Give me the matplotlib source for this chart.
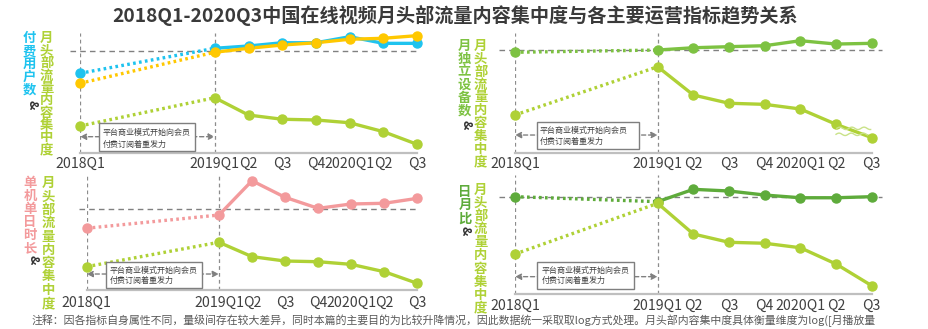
import matplotlib
matplotlib.use("Agg")
import matplotlib.pyplot as plt
import numpy as np
from matplotlib.patches import Rectangle
from matplotlib.transforms import blended_transform_factory

plt.rcParams['font.family'] = ['Noto Sans CJK SC', 'DejaVu Sans']

W, H = 929, 329

# quarter index counted from 2018Q1
quarters = [0, 4, 5, 6, 7, 8, 9, 10]
tick_labels = ["2018Q1", "2019Q1", "Q2", "Q3", "Q4", "2020Q1", "Q2", "Q3"]

# log-scaled index values (relative units)
paid_users = [66.5, 87.3, 89.2, 91.9, 91.9, 96.9, 91.4, 91.4]
conc_paid = [58.2, 84.0, 87.3, 90.0, 91.9, 94.8, 95.6, 97.8]
conc_a = [22.7, 46.2, 31.8, 28.3, 27.7, 25.4, 18.0, 7.5]

devices = [84.1, 86.0, 87.9, 88.8, 89.6, 93.8, 91.0, 91.6]
conc_b = [31.6, 72.0, 48.3, 41.4, 40.5, 36.6, 23.8, 12.6]

daily_time = [53.7, 65.2, 95.0, 80.6, 71.0, 74.8, 75.4, 79.7]
conc_c = [20.3, 41.5, 29.0, 25.2, 24.6, 22.3, 15.9, 5.8]

dau_mau = [81.7, 77.5, 87.9, 86.5, 83.1, 80.8, 80.8, 81.7]
conc_d = [33.3, 76.1, 50.2, 43.2, 42.4, 38.6, 24.9, 6.6]

ref_levels = [85.3, 86.0, 70.2, 81.7]

title = "2018Q1-2020Q3中国在线视频月头部流量内容集中度与各主要运营指标趋势关系"
note_text = ("平台商业模式开始向会员\n付费订阅着重发力")
footnote = ("注释：因各指标自身属性不同，量级间存在较大差异，同时本篇的主要目的为比较升降情况，"
            "因此数据统一采取取log方式处理。月头部内容集中度具体衡量维度为log([月播放量")

BLUE = "#1fc3ef"
YELLOW = "#ffc800"
LIME = "#afd136"
GREEN = "#7dc242"
PINK = "#f39a9c"
DGREEN = "#5eab3b"
GRID = "#808080"
TXT = "#404040"

fig = plt.figure(figsize=(W / 100, H / 100), dpi=100)


def fx(x):
    return x / W


def fy(y):
    return 1 - y / H


panels = [
    dict(rect=(80, 33, 417, 153.3), series=[(paid_users, BLUE), (conc_paid, YELLOW), (conc_a, LIME)],
         ref=ref_levels[0], ref_x=(-0.3, 10), arrow_y=13.8, tick_y=163.5,
         box=(0.57, 1.9, 3.41, 24.9), text_xy=(0.68, 17.1, 7.7)),
    dict(rect=(515, 33.3, 871.7, 152.7), series=[(devices, GREEN), (conc_b, LIME)],
         ref=ref_levels[1], ref_x=(-0.45, 10.29), arrow_y=14.8, tick_y=164,
         box=(0.61, 3.1, 3.48, 25.5), text_xy=(0.70, 18.2, 9.8)),
    dict(rect=(86.7, 175, 417.3, 290), series=[(daily_time, PINK), (conc_c, LIME)],
         ref=ref_levels[2], ref_x=(-0.23, 10), arrow_y=13.9, tick_y=303,
         box=(0.58, 1.5, 3.50, 24.6), text_xy=(0.70, 17.4, 8.1)),
    dict(rect=(515, 175, 871.7, 293.5), series=[(dau_mau, DGREEN), (conc_d, LIME)],
         ref=ref_levels[3], ref_x=(-0.45, 10.29), arrow_y=14.2, tick_y=306,
         box=(0.63, 3.8, 3.35, 26.8), text_xy=(0.75, 19.8, 10.8)),
]

axes = []
for p in panels:
    l, t, r, b = p["rect"]
    ax = fig.add_axes([fx(l), fy(b), (r - l) / W, (b - t) / H])
    axes.append(ax)
    ax.set_xlim(0, 10)
    ax.set_ylim(0, 100)
    ax.set_xticks([])
    ax.set_yticks([])
    ax.patch.set_alpha(0)
    for s in ("top", "left", "right"):
        ax.spines[s].set_visible(False)
    ax.spines["bottom"].set_color("#bfbfbf")
    ax.spines["bottom"].set_linewidth(1.6)

    for xv in (0, 4):
        ax.axvline(xv, color="#8c8c8c", lw=0.9, ls=(0, (3, 2.5)), zorder=1)
    ax.plot(p["ref_x"], [p["ref"], p["ref"]], color=GRID, lw=1.0,
            ls=(0, (4, 3)), clip_on=False, zorder=1)

    for vals, col in p["series"]:
        ax.plot(quarters[:2], vals[:2], color=col, lw=2.4, ls=(0, (0.8, 1.0)),
                clip_on=False, zorder=3)
        ax.plot(quarters[1:], vals[1:], color=col, lw=2.4, clip_on=False,
                zorder=3, solid_capstyle="round")
        ax.plot(quarters, vals, "o", color=col, ms=6.5, clip_on=False, zorder=4)

    ax.annotate("", xy=(4, p["arrow_y"]), xytext=(0, p["arrow_y"]),
                arrowprops=dict(arrowstyle="<|-|>", color=GRID, lw=1.0,
                                ls=(0, (3, 2)), shrinkA=0, shrinkB=0,
                                mutation_scale=9), zorder=2)
    x0, y0, x1, y1 = p["box"]
    ax.add_patch(Rectangle((x0, y0), x1 - x0, y1 - y0, fc="white",
                           ec="#7f7f7f", lw=1.0, zorder=5, clip_on=False))
    tx, ty1, ty2 = p["text_xy"]
    line1, line2 = note_text.split("\n")
    ax.text(tx, ty1, line1, fontsize=5.8, color=TXT, va="center", ha="left", zorder=6)
    ax.text(tx, ty2, line2, fontsize=5.8, color=TXT, va="center", ha="left", zorder=6)

    trans = blended_transform_factory(ax.transData, fig.transFigure)
    for q, lab in zip(quarters, tick_labels):
        ax.text(q, fy(p["tick_y"]), lab, transform=trans, ha="center",
                va="center", fontsize=10.2, color=TXT, clip_on=False)

# wavy break marks on the last segment of the device panel
ax = axes[1]
xs = np.linspace(9.02, 9.97, 80)
ax.plot(xs, 20.4 + 1.0 * np.sin((xs - 9.02) / 0.34 * 2 * np.pi),
        color="#c9e288", lw=1.0, zorder=5, clip_on=False)
xs = np.linspace(9.0, 9.88, 80)
ax.plot(xs, 15.4 + 1.0 * np.sin((xs - 9.0) / 0.34 * 2 * np.pi),
        color="#c9e288", lw=1.0, zorder=5, clip_on=False)


def vertical_label(x, y0, step, chars, color, amp_xy=None):
    for i, ch in enumerate(chars):
        fig.text(fx(x), fy(y0 + i * step), ch, fontsize=9.6, fontweight="bold",
                 color=color, ha="center", va="center")
    if amp_xy is not None:
        fig.text(fx(amp_xy[0]), fy(amp_xy[1]), "&", fontsize=9.0, fontweight="bold",
                 color="#333333", ha="center", va="center", rotation=-90)


conc_label = "月头部流量内容集中度"
vertical_label(29, 38.3, 12.9, "付费用户数", BLUE, (31.7, 104.5))
vertical_label(46.7, 38.3, 12.4, conc_label, LIME)
vertical_label(464, 45.7, 13.0, "月独立设备数", GREEN, (466, 124.5))
vertical_label(480.7, 45.7, 12.9, conc_label, LIME)
vertical_label(30, 183.3, 13.0, "单机单日时长", PINK, (33.3, 260))
vertical_label(48.3, 183.3, 13.3, conc_label, LIME)
vertical_label(465, 191.7, 13.3, "日月比", DGREEN, (465, 231))
vertical_label(480.7, 190, 13.1, conc_label, LIME)

fig.text(fx(455), fy(15), title, fontsize=13.8, fontweight="bold",
         color="#3a3a3a", ha="center", va="center")
fig.text(fx(31.7), fy(320.5), footnote, fontsize=7.85, color="#595959",
         ha="left", va="center")

fig.savefig("out.png", dpi=100)
